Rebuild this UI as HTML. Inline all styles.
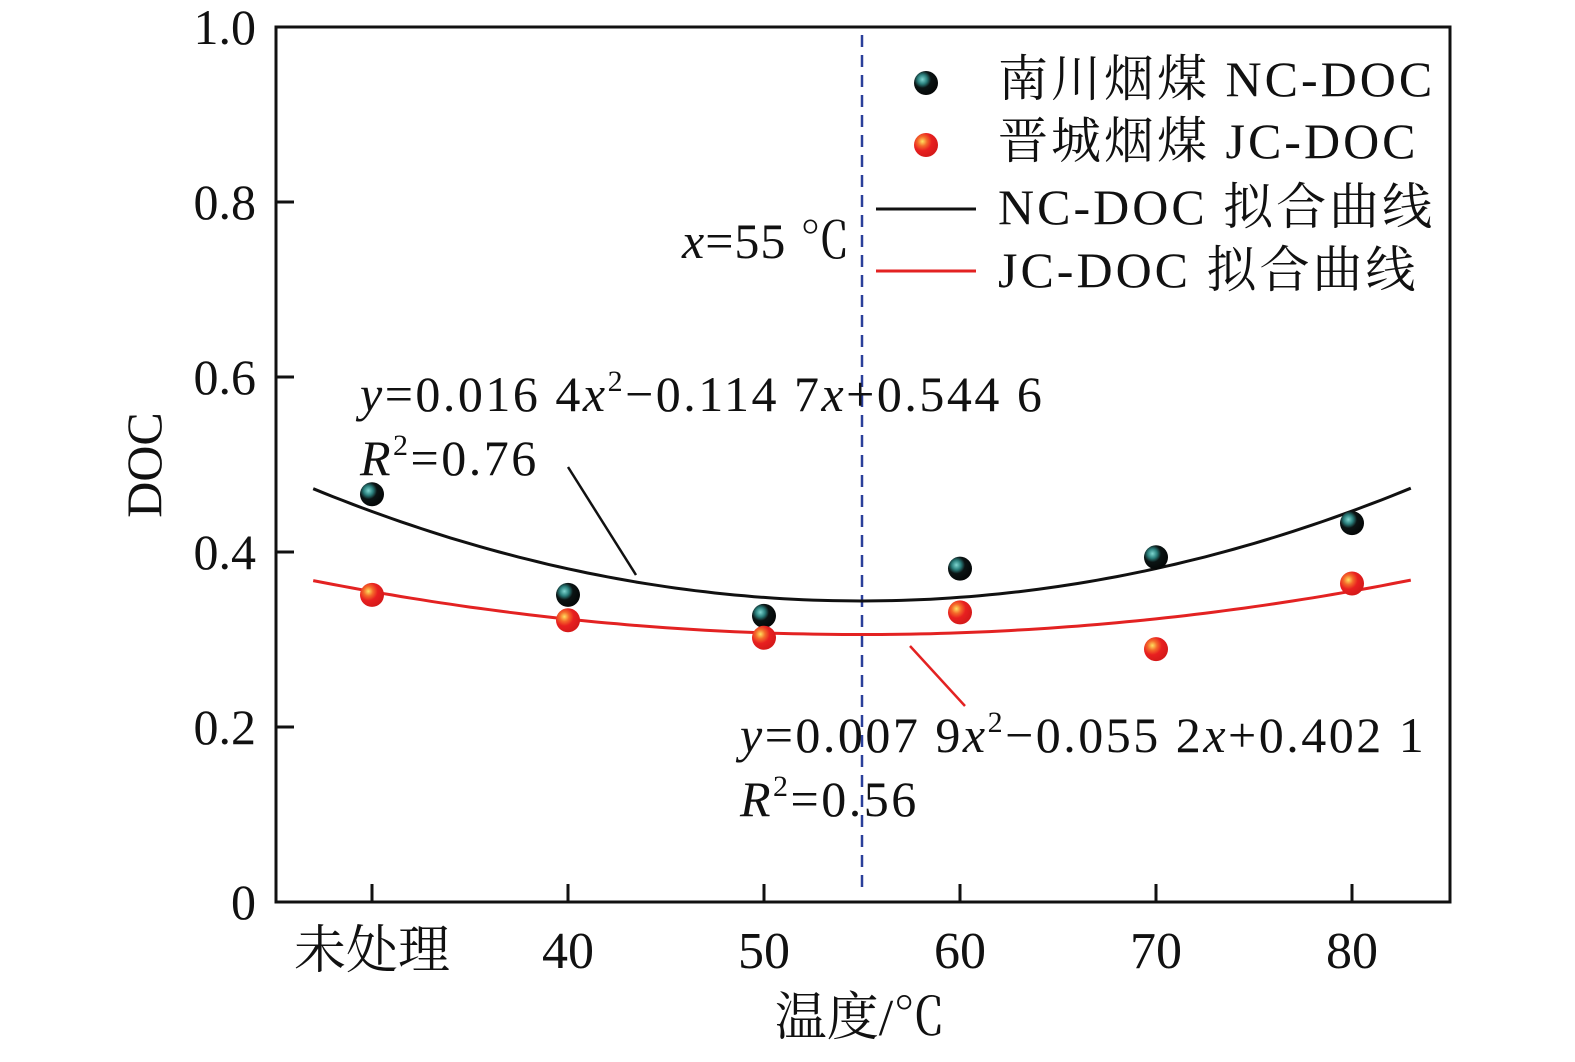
<!DOCTYPE html>
<html><head><meta charset="utf-8"><style>
body{margin:0;background:#fff}
svg text{font-family:"Liberation Serif","Noto Serif CJK SC",serif;fill:#111}
</style></head><body>
<svg id="c" width="1575" height="1057" xmlns="http://www.w3.org/2000/svg">
<defs>
<radialGradient id="gb" cx="0.35" cy="0.35" r="0.65"><stop offset="0" stop-color="#7fd6d0"/><stop offset="0.3" stop-color="#2a7f7c"/><stop offset="0.55" stop-color="#0b1414"/><stop offset="1" stop-color="#050808"/></radialGradient>
<radialGradient id="gr" cx="0.35" cy="0.35" r="0.65"><stop offset="0" stop-color="#ffe060"/><stop offset="0.3" stop-color="#f46a2a"/><stop offset="0.6" stop-color="#e82020"/><stop offset="1" stop-color="#d61a1a"/></radialGradient>
</defs>
<g id="plot"></g>
</svg>
<script>
const categories=["未处理","40","50","60","70","80"];
const ncValues=[0.466,0.351,0.327,0.381,0.394,0.433];
const jcValues=[0.351,0.322,0.302,0.331,0.289,0.364];
const ncCoef=[0.0164,-0.1147,0.5446];
const jcCoef=[0.0079,-0.0552,0.4021];
const yTicks=[0,0.2,0.4,0.6,0.8,1.0];
const yTickLabels=["0","0.2","0.4","0.6","0.8","1.0"];
const L=276,R=1450,T=27,B=902;
const X=i=>372+(i-1)*196;
const Y=v=>B-v*(B-T);
const NS="http://www.w3.org/2000/svg";
const g=document.getElementById('plot');
function mk(t,a,txt){const e=document.createElementNS(NS,t);for(const k in a)e.setAttribute(k,a[k]);if(txt!==undefined)e.textContent=txt;g.appendChild(e);return e;}
let e;
e=mk('rect',{x:L,y:T,width:R-L,height:B-T,fill:'none',stroke:'#111','stroke-width':3});

yTicks.forEach((v,i)=>{
 e=mk('line',{x1:L,x2:L+18,y1:Y(v),y2:Y(v),stroke:'#111','stroke-width':3});
 
 e=mk('text',{x:256,y:Y(v)+17,'font-size':50,'text-anchor':'end'},yTickLabels[i]);
 
});
categories.forEach((c,i)=>{
 e=mk('line',{x1:X(i+1),x2:X(i+1),y1:B,y2:B-18,stroke:'#111','stroke-width':3});
 
 e=mk('text',{x:X(i+1),y:968,'font-size':52,'text-anchor':'middle'},c);
 
});
e=mk('text',{x:860,y:1035,'font-size':52,'text-anchor':'middle'},'温度/℃');

e=mk('text',{x:0,y:0,'font-size':50,'text-anchor':'middle',transform:'translate(161,465) rotate(-90)'},'DOC');

e=mk('line',{x1:X(3.5),x2:X(3.5),y1:T+8,y2:B-8,stroke:'#2a3f9a','stroke-width':2.5,'stroke-dasharray':'12,8'});

function curve(cf,col,name){let d='';for(let x=0.7;x<=6.301;x+=0.05){const v=cf[0]*x*x+cf[1]*x+cf[2];d+=(d?'L':'M')+X(x).toFixed(1)+','+Y(v).toFixed(1);}
 e=mk('path',{d:d,fill:'none',stroke:col,'stroke-width':3});}
curve(ncCoef,'#111','nc-fit-curve');curve(jcCoef,'#e32222','jc-fit-curve');
ncValues.forEach((v,i)=>{e=mk('circle',{cx:X(i+1),cy:Y(v),r:12,fill:'url(#gb)'});});
jcValues.forEach((v,i)=>{e=mk('circle',{cx:X(i+1),cy:Y(v),r:12,fill:'url(#gr)'});});
e=mk('line',{x1:568,y1:467,x2:636,y2:575,stroke:'#111','stroke-width':2.5});
e=mk('line',{x1:910,y1:646,x2:965,y2:706,stroke:'#e32222','stroke-width':2.5});
function html(x,y,s,name,ls){const t=document.createElementNS(NS,'text');t.setAttribute('x',x);t.setAttribute('y',y);t.setAttribute('font-size',50);t.setAttribute('letter-spacing',ls);t.innerHTML=s;g.appendChild(t);}
html(682,258,'<tspan font-style="italic">x</tspan>=55 ℃','x55-label',1);
html(360,411,'<tspan font-style="italic">y</tspan>=0.016 4<tspan font-style="italic">x</tspan><tspan font-size="30" dy="-20">2</tspan><tspan dy="20">−0.114 7</tspan><tspan font-style="italic">x</tspan>+0.544 6','nc-equation',2.5);
html(360,475,'<tspan font-style="italic">R</tspan><tspan font-size="30" dy="-20">2</tspan><tspan dy="20">=0.76</tspan>','nc-r2',2.5);
html(740,752,'<tspan font-style="italic">y</tspan>=0.007 9<tspan font-style="italic">x</tspan><tspan font-size="30" dy="-20">2</tspan><tspan dy="20">−0.055 2</tspan><tspan font-style="italic">x</tspan>+0.402 1','jc-equation',2.5);
html(740,816,'<tspan font-style="italic">R</tspan><tspan font-size="30" dy="-20">2</tspan><tspan dy="20">=0.56</tspan>','jc-r2',2.5);
e=mk('circle',{cx:926,cy:83,r:12,fill:'url(#gb)'});
e=mk('circle',{cx:926,cy:145,r:12,fill:'url(#gr)'});
e=mk('line',{x1:876,x2:976,y1:209,y2:209,stroke:'#111','stroke-width':3});
e=mk('line',{x1:876,x2:976,y1:271,y2:271,stroke:'#e32222','stroke-width':3});
[['南川烟煤 NC-DOC',96],['晋城烟煤 JC-DOC',158],['NC-DOC 拟合曲线',224],['JC-DOC 拟合曲线',287]].forEach(([t,y])=>{
 e=mk('text',{x:998,y:y,'font-size':50,'letter-spacing':3},t);});
</script>
</body></html>
